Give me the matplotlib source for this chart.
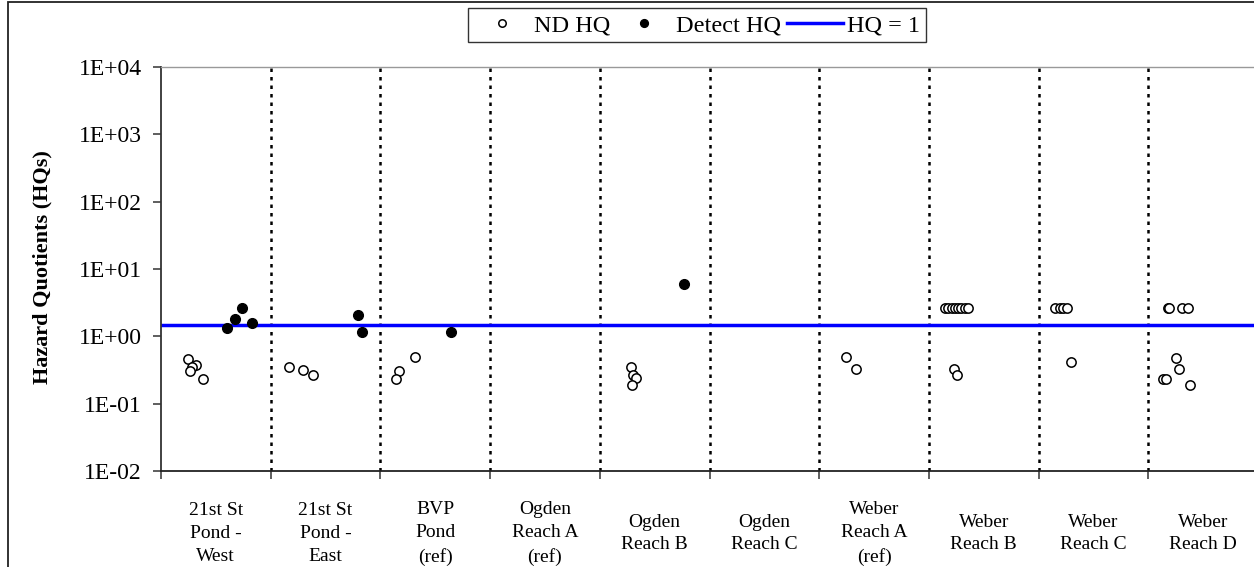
import matplotlib
matplotlib.use("Agg")
import matplotlib.pyplot as plt
from matplotlib.lines import Line2D
from matplotlib.patches import Rectangle

plt.rcParams['font.family'] = ['Liberation Serif', 'DejaVu Serif']

categories = ["21st St\nPond -\nWest", "21st St\nPond -\nEast", "BVP\nPond\n(ref)",
              "Ogden\nReach A\n(ref)", "Ogden\nReach B", "Ogden\nReach C",
              "Weber\nReach A\n(ref)", "Weber\nReach B", "Weber\nReach C", "Weber\nReach D"]

# Non-detect HQs: x position (category units) and value
nd_x = [0.243, 0.316, 0.285, 0.267, 0.386,
        1.164, 1.294, 1.383,
        2.318, 2.172, 2.142,
        4.282, 4.300, 4.330, 4.297,
        6.247, 6.336,
        7.147, 7.177, 7.207, 7.237, 7.267, 7.297, 7.327, 7.357, 7.229, 7.259,
        8.152, 8.193, 8.218, 8.256, 8.298,
        9.180, 9.186, 9.305, 9.360, 9.253, 9.280, 9.137, 9.161, 9.380]
nd_hq = [0.46, 0.37, 0.35, 0.31, 0.23,
         0.35, 0.32, 0.27,
         0.50, 0.31, 0.23,
         0.35, 0.27, 0.24, 0.19,
         0.50, 0.33,
         2.62, 2.62, 2.62, 2.62, 2.62, 2.62, 2.62, 2.62, 0.33, 0.27,
         2.62, 2.62, 2.62, 2.62, 0.42,
         2.62, 2.62, 2.62, 2.62, 0.48, 0.33, 0.235, 0.235, 0.19]

# Detected HQs
det_x = [0.604, 0.677, 0.738, 0.827,
         1.793, 1.835,
         2.641,
         4.768]
det_hq = [1.33, 1.79, 2.64, 1.56,
          2.08, 1.15,
          1.16,
          6.0]

hq_line_value = 1.49
ytick_values = [1e-2, 1e-1, 1e0, 1e1, 1e2, 1e3, 1e4]
ytick_labels = ["1E-02", "1E-01", "1E+00", "1E+01", "1E+02", "1E+03", "1E+04"]

W, H = 1254, 567
fig = plt.figure(figsize=(W / 100, H / 100), dpi=100)
ax = fig.add_axes([161 / W, (H - 471) / H, 1097 / W, 404 / H])

n = len(categories)
ax.set_yscale('log')
ax.set_ylim(1e-2, 1e4)
ax.set_xlim(0, n)

# category dividers
for i in range(1, n):
    ax.axvline(i, color='black', lw=1.8, linestyle=(0, (1.4, 2.0)), zorder=1)

ax.axhline(hq_line_value, color='#0000FF', lw=2.5, zorder=2)

ax.plot(nd_x, nd_hq, 'o', ms=6.7, mfc='white', mec='black', mew=1.1, zorder=3)
ax.plot(det_x, det_hq, 'o', ms=7, mfc='black', mec='black', mew=1.0, zorder=3)

ax.set_yticks(ytick_values)
ax.set_yticklabels(ytick_labels)
ax.yaxis.set_minor_locator(matplotlib.ticker.NullLocator())
ax.tick_params(axis='y', which='major', direction='out', length=6, width=1.1,
               pad=8, labelsize=17, color='#333333')

ax.set_xticks(range(n + 1))
ax.set_xticklabels([''] * (n + 1))
ax.set_xticks([i + 0.5 for i in range(n)], minor=True)
ax.set_xticklabels(categories, minor=True, fontsize=14, va='center',
                   ha='center', linespacing=1.45)
ax.tick_params(axis='x', which='major', direction='out', length=6, width=1.1,
               color='#333333')
ax.tick_params(axis='x', which='minor', length=0, pad=45)

ax.set_ylabel('Hazard Quotients (HQs)', fontsize=16, fontweight='bold')
ax.yaxis.set_label_coords((52 - 161) / 1097, 0.505)

ax.spines['top'].set_color('#999999')
ax.spines['top'].set_linewidth(1.0)
ax.spines['right'].set_visible(False)
ax.spines['left'].set_color('#333333')
ax.spines['left'].set_linewidth(1.3)
ax.spines['bottom'].set_color('#222222')
ax.spines['bottom'].set_linewidth(1.3)

handles = [
    Line2D([], [], marker='o', ls='none', ms=6.7, mfc='white', mec='black', mew=1.1),
    Line2D([], [], marker='o', ls='none', ms=7, mfc='black', mec='black'),
    Line2D([], [], color='#0000FF', lw=2.5),
]
leg = fig.legend(handles, ['ND HQ', 'Detect HQ', 'HQ = 1'], ncol=3,
                 loc='center', bbox_to_anchor=(697 / W, 1 - 25 / H),
                 fontsize=17.5, frameon=True, fancybox=False, shadow=False,
                 handlelength=2.3, handletextpad=0.15, columnspacing=0.25,
                 borderpad=0.25, markerscale=0.8)
leg.get_frame().set_edgecolor('black')
leg.get_frame().set_linewidth(1.0)

# outer chart border
fig.add_artist(Rectangle((8 / W, -0.01), 1.1, 1 - 1.7 / H + 0.01,
                         transform=fig.transFigure, fill=False,
                         edgecolor='#222222', lw=1.3))

fig.savefig('out.png', dpi=100)
